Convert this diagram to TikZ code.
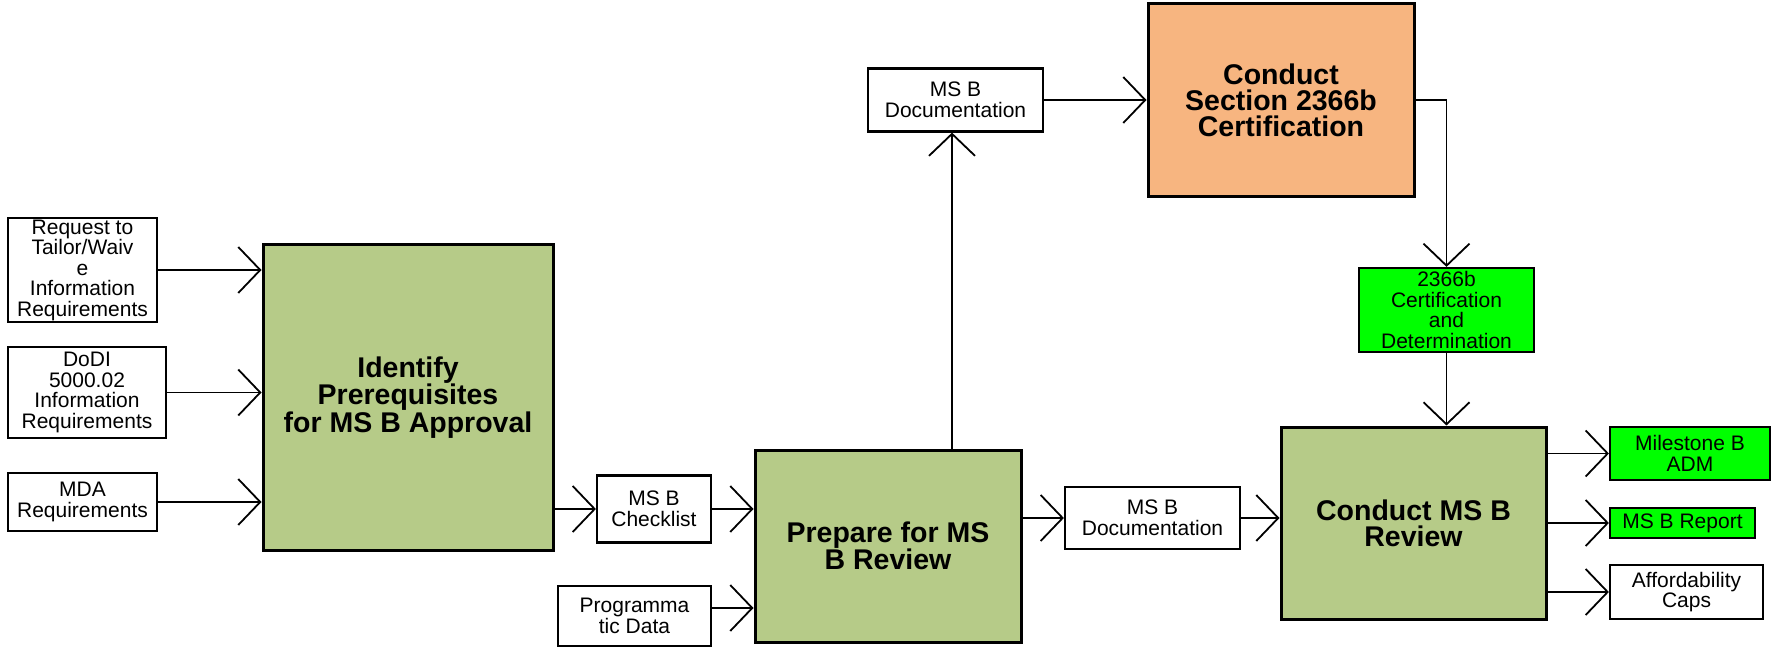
\documentclass[tikz,border=0pt]{standalone}
\usepackage{fontspec}
\setmainfont{Liberation Sans}
\usetikzlibrary{arrows.meta}
\definecolor{procgreen}{HTML}{B6CB88}
\definecolor{certorange}{HTML}{F7B580}
\definecolor{outgreen}{HTML}{00FF00}
\begin{document}
\begin{tikzpicture}[x=1pt,y=-1pt,
  smallbox/.style={draw=black, line width=2.2pt, fill=white, align=center, inner sep=0pt,
    font=\fontsize{21}{20.5}\selectfont},
  bigbox/.style={draw=black, line width=3pt, fill=procgreen, align=center, inner sep=0pt,
    font=\fontsize{28.5}{26}\selectfont\bfseries},
  conn/.style={line width=1.8pt, -{Straight Barb[length=22pt,width=46pt,line width=1.8pt]}}]
\useasboundingbox[fill=white] (0,0) rectangle (1773,647);

% inputs
\node[smallbox, minimum width=149pt, minimum height=104pt] (req) at (82.5,270)
  {Request to\\Tailor/Waiv\\e\\Information\\Requirements};
\node[smallbox, minimum width=158pt, minimum height=91pt] (dodi) at (87,392.5)
  {DoDI\\5000.02\\Information\\Requirements};
\node[smallbox, minimum width=149pt, minimum height=58pt] (mda) at (82.5,502)
  {MDA\\Requirements};

% process boxes
\node[bigbox, minimum width=290pt, minimum height=305pt] (ident) at (408,397.5)
  {Identify\\Prerequisites\\for MS B Approval};
\node[smallbox, minimum width=114pt, minimum height=67pt] (check) at (654,509)
  {MS B\\Checklist};
\node[smallbox, minimum width=153pt, minimum height=60pt] (prog) at (634.5,616)
  {Programma\\tic Data};
\node[bigbox, minimum width=266pt, minimum height=192pt] (prep) at (888,546)
  {Prepare for MS\\B Review};
\node[smallbox, minimum width=175pt, minimum height=63pt] (docT) at (955.5,100)
  {MS B\\Documentation};
\node[bigbox, fill=certorange, minimum width=266pt, minimum height=193pt] (cert) at (1281,100)
  {Conduct\\Section 2366b\\Certification};
\node[smallbox, fill=outgreen, minimum width=175pt, minimum height=84pt] (det) at (1446.5,310)
  {2366b\\Certification\\and\\Determination};
\node[smallbox, minimum width=175pt, minimum height=62pt] (docL) at (1152.5,518)
  {MS B\\Documentation};
\node[bigbox, minimum width=265pt, minimum height=192pt] (cmr) at (1413.5,523)
  {Conduct MS B\\Review};

% outputs
\node[smallbox, fill=outgreen, minimum width=160pt, minimum height=53pt] (adm) at (1690,453.5)
  {Milestone B\\ADM};
\node[smallbox, fill=outgreen, minimum width=145pt, minimum height=30pt] (rep) at (1682.5,523)
  {MS B Report};
\node[smallbox, minimum width=153pt, minimum height=54pt] (aff) at (1686.5,592)
  {Affordability\\Caps};

% helper coordinates
\path ([yshift=8pt]prog.east) coordinate (progout);
\path ([xshift=-3.5pt]docT.south) coordinate (docin);

% connectors
\draw[conn] (req.east) -- (req.east -| ident.west);
\draw[conn] (dodi.east) -- (dodi.east -| ident.west);
\draw[conn] (mda.east) -- (mda.east -| ident.west);
\draw[conn] (check.west -| ident.east) -- (check.west);
\draw[conn] (check.east) -- (check.east -| prep.west);
\draw[conn] (progout) -- (progout -| prep.west);
\draw[conn] (docin |- prep.north) -- (docin);
\draw[conn] (docT.east) -- (docT.east -| cert.west);
\draw[conn] (cert.east) -| (det.north);
\draw[conn] (det.south) -- (det.south |- cmr.north);
\draw[conn] (docL.west -| prep.east) -- (docL.west);
\draw[conn] (docL.east) -- (docL.east -| cmr.west);
\draw[conn] (adm.west -| cmr.east) -- (adm.west);
\draw[conn] (rep.west -| cmr.east) -- (rep.west);
\draw[conn] (aff.west -| cmr.east) -- (aff.west);
\end{tikzpicture}
\end{document}
